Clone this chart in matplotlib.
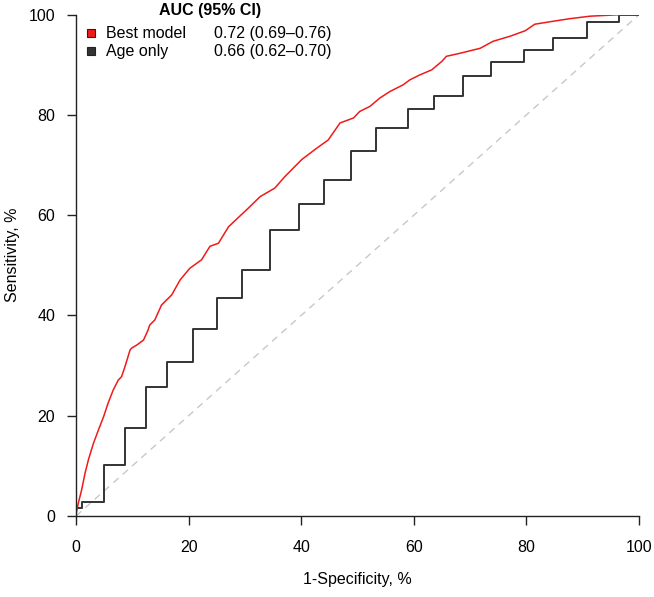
import numpy as np
import matplotlib
matplotlib.use("Agg")
import matplotlib.pyplot as plt

plt.rcParams['font.family'] = ['Liberation Sans', 'DejaVu Sans']

# ROC points (1-specificity %, sensitivity %)
best_fpr = [0, 0.1, 0.4, 1.0, 1.6, 2.2, 3.1, 4.0, 4.9, 5.7, 6.6, 7.5, 8.1, 8.7, 9.6, 9.9,
            10.8, 12.0, 12.8, 13.1, 14.0, 15.2, 17.0, 18.5, 20.2, 22.3, 23.8, 25.3, 27.1,
            30.6, 32.7, 35.3, 37.1, 40.1, 42.8, 44.8, 46.9, 49.3, 50.4, 52.2, 54.0, 55.8,
            58.1, 59.3, 61.1, 63.2, 65.0, 65.8, 68.2, 71.8, 74.1, 77.1, 79.8, 81.5, 84.8,
            87.7, 91.3, 96.6, 100]
best_tpr = [0, 0.9, 2.5, 5.2, 8.5, 11.2, 14.5, 17.2, 19.8, 22.5, 25.1, 27.1, 27.8, 29.8, 33.1, 33.5,
            34.1, 35.1, 37.1, 38.1, 39.1, 42.1, 44.1, 47.1, 49.4, 51.1, 53.8, 54.4, 57.7,
            61.4, 63.7, 65.4, 67.7, 71.1, 73.4, 75.0, 78.4, 79.4, 80.7, 81.7, 83.4, 84.7,
            86.0, 87.0, 88.0, 89.0, 90.7, 91.7, 92.3, 93.3, 94.7, 95.7, 96.8, 98.1, 98.7,
            99.2, 99.7, 100, 100]

age_fpr = [0, 0, 1.0, 5.0, 8.7, 12.4, 16.1, 20.8, 25.1, 29.5, 34.4, 39.7, 44.1, 48.9,
           53.3, 59.0, 63.6, 68.7, 73.8, 79.6, 84.8, 90.8, 96.4, 100]
age_tpr = [0, 1.6, 2.7, 10.2, 17.5, 25.7, 30.7, 37.4, 43.5, 49.0, 57.0, 62.3, 67.0, 72.8,
           77.3, 81.2, 83.8, 87.8, 90.6, 93.0, 95.3, 98.5, 100, 100]

labels = ["Best model", "Age only"]
auc_text = ["0.72 (0.69\u20130.76)", "0.66 (0.62\u20130.70)"]
colors = ["#f01a1a", "#333333"]

fig = plt.figure(figsize=(6.54, 5.97), dpi=100)
ax = fig.add_axes([0.1162, 0.1357, 0.8608, 0.8397])

ax.plot([0, 100], [0, 100], color="#c8c8c8", lw=1, ls=(0, (5, 4)))
ax.step(age_fpr, age_tpr, where="post", color=colors[1], lw=1.4)
ax.plot(best_fpr, best_tpr, color=colors[0], lw=1.1)

ax.set_xlim(0, 100)
ax.set_ylim(0, 100)
ax.set_xticks(range(0, 101, 20))
ax.set_yticks(range(0, 101, 20))
for s in ["top", "right"]:
    ax.spines[s].set_visible(False)
for s in ["left", "bottom"]:
    ax.spines[s].set_linewidth(1.0)
    ax.spines[s].set_color("#222222")
ax.tick_params(direction="out", length=6.5, width=1.0, color="#222222",
               labelsize=11.5)
ax.tick_params(axis="x", pad=11)
ax.tick_params(axis="y", pad=8.5)
ax.set_xlabel("1-Specificity, %", fontsize=11.5)
ax.set_ylabel("Sensitivity, %", fontsize=11.5)
ax.xaxis.set_label_coords(0.5, -0.112)
ax.yaxis.set_label_coords(-0.1, 0.521)

# legend drawn by hand, R style
ax.text(0.238, 1.008, "AUC (95% CI)", transform=ax.transAxes, ha="center",
        va="center", fontsize=11.5, fontweight="bold", clip_on=False)
for i, (lab, auc, c) in enumerate(zip(labels, auc_text, colors)):
    yy = 0.963 - i * 0.036
    ax.plot([0.027], [yy], marker="s", ms=6, mfc=c, mec="#222222", mew=0.8,
            transform=ax.transAxes, clip_on=False)
    ax.text(0.053, yy, lab, transform=ax.transAxes, va="center", fontsize=11.5)
    ax.text(0.245, yy, auc, transform=ax.transAxes, va="center", fontsize=11.5)

fig.savefig("out.png", dpi=100)
